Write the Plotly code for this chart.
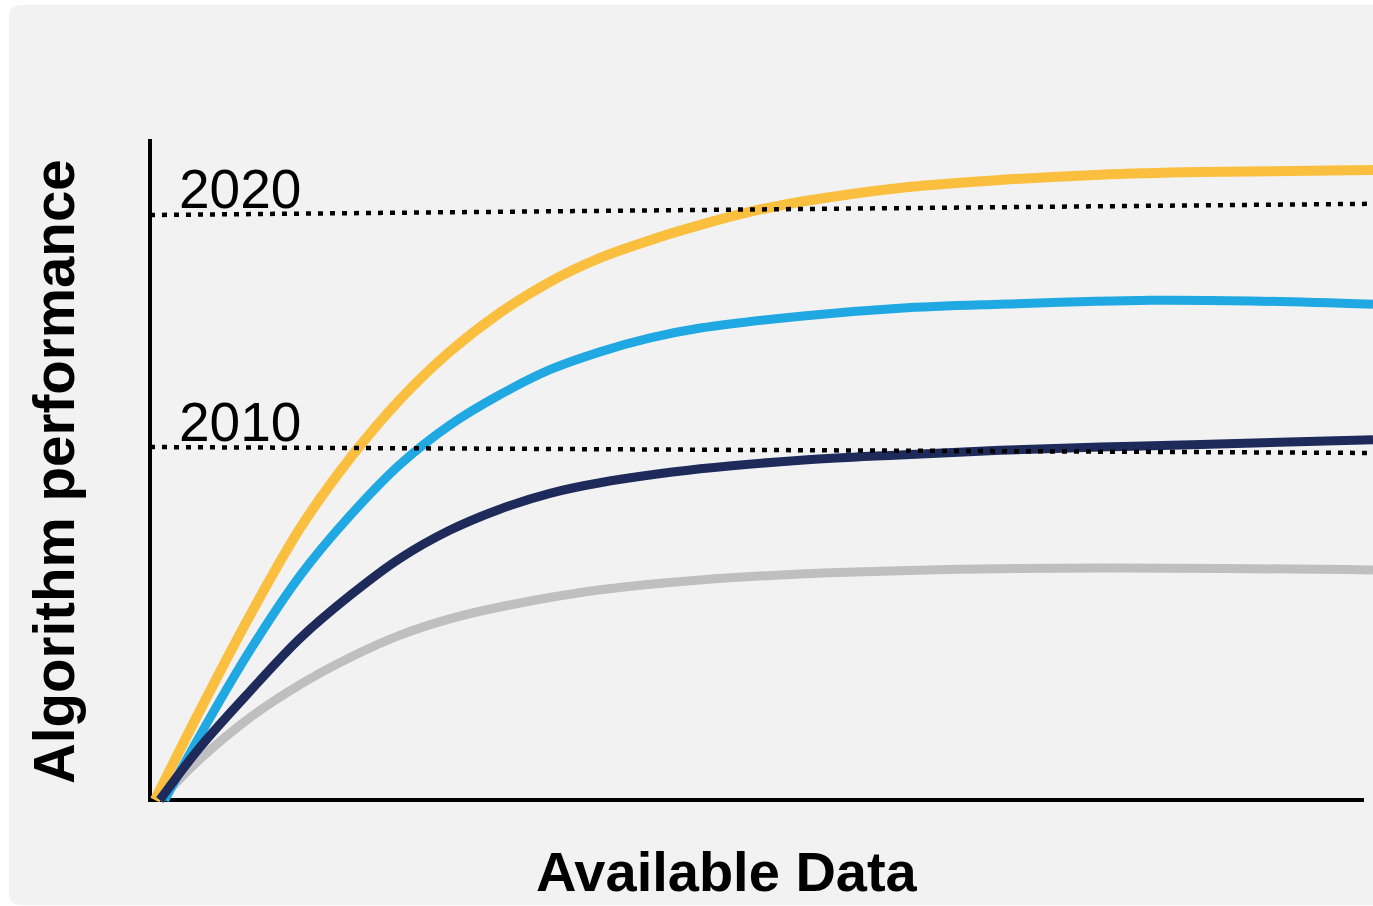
import plotly.graph_objects as go

W, H = 1373, 906

# Curve samples: x = share of available data (0-100), y = performance (0-100)
yellow_x = [0.4, 4.1, 8.2, 12.3, 16.4, 20.4, 24.5, 28.6, 32.7, 36.8, 40.9, 45.0,
            49.1, 53.2, 61.3, 69.5, 77.7, 85.9, 100]
yellow_y = [0, 13.6, 28.0, 41.2, 51.8, 60.5, 67.8, 73.7, 78.4, 82.0, 84.7, 87.0,
            89.0, 90.5, 92.6, 93.8, 94.6, 95.0, 95.3]

blue_x = [1.2, 4.1, 8.2, 12.3, 16.4, 20.4, 24.5, 28.6, 32.7, 36.8, 40.9, 45.0,
          53.2, 61.3, 69.5, 81.8, 90.0, 100]
blue_y = [0, 9.8, 22.7, 34.0, 43.1, 50.7, 56.7, 61.3, 65.1, 67.8, 69.9, 71.4,
          73.2, 74.4, 75.0, 75.6, 75.5, 75.0]

navy_x = [0.8, 4.1, 8.2, 12.3, 16.4, 20.4, 24.5, 28.6, 32.7, 36.8, 45.0, 53.2,
          61.3, 69.5, 77.7, 85.9, 100]
navy_y = [0, 8.0, 16.5, 24.5, 31.0, 36.5, 40.8, 44.0, 46.4, 48.0, 50.1, 51.4,
          52.2, 52.9, 53.4, 53.8, 54.5]

gray_x = [0.8, 4.1, 8.2, 12.3, 16.4, 20.4, 24.5, 28.6, 36.8, 45.0, 53.2, 61.3,
          77.7, 100]
gray_y = [0, 6.2, 12.5, 17.5, 21.6, 24.9, 27.4, 29.2, 31.8, 33.3, 34.2, 34.7,
          35.1, 34.8]

# Reference levels
level_labels = ["2020", "2010"]
level_x = [0, 100]
level_2020_y = [88.5, 90.2]
level_2010_y = [53.4, 52.5]

FONT = "Liberation Sans, Arial, sans-serif"


def px_x(p):
    return p / W


def px_y(p):
    return (H - p) / H


fig = go.Figure()

for xs, ys, color, width in [
    (gray_x, gray_y, "#BFBFBF", 9),
    (yellow_x, yellow_y, "#FBBF3F", 10),
    (blue_x, blue_y, "#1FA8E1", 9),
    (navy_x, navy_y, "#1E2A5A", 9),
]:
    fig.add_trace(go.Scatter(
        x=xs, y=ys, mode="lines",
        line=dict(color=color, width=width, shape="spline", smoothing=1.0),
        hoverinfo="skip", showlegend=False,
    ))

for ys in (level_2020_y, level_2010_y):
    fig.add_trace(go.Scatter(
        x=level_x, y=ys, mode="lines",
        line=dict(color="#000000", width=4.5, dash="5px,7px"),
        hoverinfo="skip", showlegend=False,
    ))

# Rounded background card
L, R, T, B, r = 9, 1373, 5, 905, 12
card = (
    f"M {px_x(L + r)},{px_y(T)} L {px_x(R)},{px_y(T)} L {px_x(R)},{px_y(B)} "
    f"L {px_x(L + r)},{px_y(B)} Q {px_x(L)},{px_y(B)} {px_x(L)},{px_y(B - r)} "
    f"L {px_x(L)},{px_y(T + r)} Q {px_x(L)},{px_y(T)} {px_x(L + r)},{px_y(T)} Z"
)

shapes = [
    dict(type="path", path=card, xref="paper", yref="paper",
         fillcolor="#F2F2F2", line=dict(width=0), layer="below"),
    # y axis
    dict(type="line", xref="paper", yref="paper",
         x0=px_x(150), x1=px_x(150), y0=px_y(139), y1=px_y(802),
         line=dict(color="#000000", width=4), layer="below"),
    # x axis
    dict(type="line", xref="paper", yref="paper",
         x0=px_x(148), x1=px_x(1364), y0=px_y(800), y1=px_y(800),
         line=dict(color="#000000", width=4), layer="below"),
]

annotations = [
    dict(text=level_labels[0], xref="paper", yref="paper",
         x=px_x(177), y=px_y(189), xanchor="left", yanchor="middle",
         showarrow=False, font=dict(family=FONT, size=55, color="#000000")),
    dict(text=level_labels[1], xref="paper", yref="paper",
         x=px_x(177), y=px_y(422), xanchor="left", yanchor="middle",
         showarrow=False, font=dict(family=FONT, size=55, color="#000000")),
    dict(text="<b>Available Data</b>", xref="paper", yref="paper",
         x=px_x(727), y=px_y(871), xanchor="center", yanchor="middle",
         showarrow=False, font=dict(family=FONT, size=56, color="#000000")),
    dict(text="<b>Algorithm performance</b>", xref="paper", yref="paper",
         x=px_x(54), y=px_y(472), xanchor="center", yanchor="middle",
         textangle=-90, showarrow=False,
         font=dict(family=FONT, size=56.5, color="#000000")),
]

fig.update_layout(
    width=W, height=H,
    margin=dict(l=0, r=0, t=0, b=0),
    paper_bgcolor="#FFFFFF",
    plot_bgcolor="rgba(0,0,0,0)",
    shapes=shapes,
    annotations=annotations,
    xaxis=dict(domain=[px_x(150), 1.0], range=[0, 100], visible=False, fixedrange=True),
    yaxis=dict(domain=[px_y(810), px_y(139)], range=[-10 / 6.61, 100],
               visible=False, fixedrange=True),
)

fig.write_html("out.html", config={"displayModeBar": False})
